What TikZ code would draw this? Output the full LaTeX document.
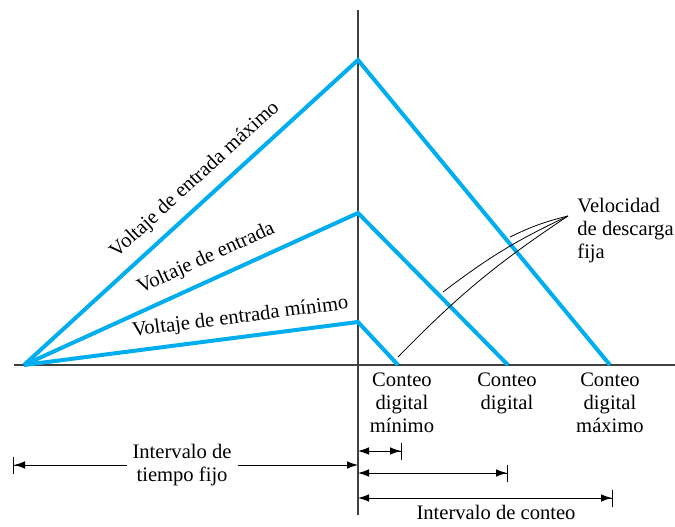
\documentclass[tikz,border=0pt]{standalone}
\usepackage{fontspec}
\setmainfont{Liberation Serif}
\usetikzlibrary{arrows.meta}
\definecolor{cian}{RGB}{0,174,239}

\begin{document}
\begin{tikzpicture}[
  x=0.5pt, y=0.5pt,
  every node/.style={font=\fontsize{10.3}{11.5}\selectfont, inner sep=0pt},
  eje/.style={line width=0.9pt, black!75},
  rampa/.style={line width=2pt, cian, line join=miter},
  cotaI/.style={line width=0.5pt, {Bar[width=8.5pt] Latex[length=5.5pt,width=3.8pt,sep=0pt]}-{Latex[length=5.5pt,width=3.8pt]}},
  cotaD/.style={line width=0.5pt, {Latex[length=5.5pt,width=3.8pt]}-{Latex[length=5.5pt,width=3.8pt,sep=0pt] Bar[width=8.5pt]}},
  guia/.style={line width=0.4pt}
]
  \useasboundingbox (0,0) rectangle (675,526);

  \coordinate (ejeI) at (14,161);
  \coordinate (ejeD) at (675,161);
  \coordinate (ejeA) at (358,516);
  \coordinate (ejeB) at (358,11);
  \draw[eje] (ejeI) -- (ejeD);
  \draw[eje] (ejeA) -- (ejeB);

  \coordinate (o)    at (24,161);
  \coordinate (pmax) at (358,466);
  \coordinate (pmed) at (358,313);
  \coordinate (pmin) at (358,204);
  \coordinate (emax) at (610,161);
  \coordinate (emed) at (508,161);
  \coordinate (emin) at (398,161);

  \draw[rampa] (o) -- node[sloped, above=5pt, pos=0.555, text=black] (lmax) {Voltaje de entrada máximo} (pmax) -- (emax);
  \draw[rampa] (o) -- node[sloped, above=5pt, pos=0.572, text=black] (lmed) {Voltaje de entrada} (pmed) -- (emed);
  \draw[rampa] (o) -- node[sloped, above=4pt, pos=0.655, text=black] (lmin) {Voltaje de entrada mínimo} (pmin) -- (emin);

  \node[align=center, anchor=north] (cmin) at (402,154) {Conteo\\digital\\mínimo};
  \node[align=center, anchor=north] (cmed) at (507,154) {Conteo\\digital};
  \node[align=center, anchor=north] (cmax) at (610,154) {Conteo\\digital\\máximo};

  \node[anchor=west, align=left] (vel) at (577,295) {Velocidad\\de descarga\\fija};
  \coordinate (g0) at (568,310);
  \coordinate (g1) at (510,289);
  \coordinate (g2) at (443,234);
  \coordinate (g3) at (398,169);
  \draw[guia] (g0) to[bend right=6] (g1);
  \draw[guia] (g0) to[bend right=6] (g2);
  \draw[guia] (g0) to[bend right=6] (g3);

  \coordinate (f0) at (13,61);
  \coordinate (f1) at (358,61);
  \draw[cotaI] (f0) -- node[pos=0.49, fill=white, inner sep=3pt, align=center] (tfijo) {Intervalo de\\tiempo fijo} (f1);

  \coordinate (ca0) at (358,75);
  \coordinate (ca1) at (402,75);
  \coordinate (cb0) at (358,53);
  \coordinate (cb1) at (508,53);
  \coordinate (cc0) at (358,28);
  \coordinate (cc1) at (613,28);
  \draw[cotaD] (ca0) -- (ca1);
  \draw[cotaD] (cb0) -- (cb1);
  \draw[cotaD] (cc0) -- (cc1);

  \node (iconteo) at (496,14) {Intervalo de conteo};
\end{tikzpicture}
\end{document}
